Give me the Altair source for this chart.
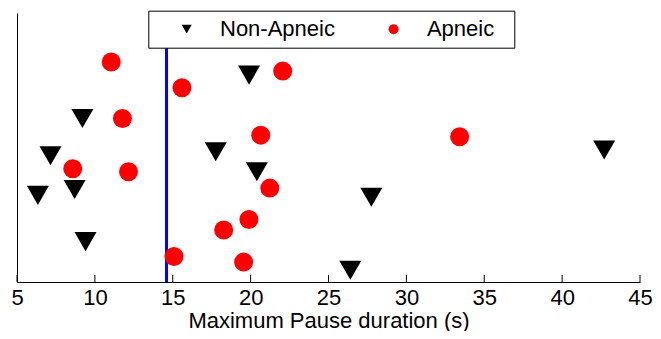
import altair as alt
import pandas as pd

groups = ["Non-Apneic", "Apneic"]
nonapneic_pause = [19.9, 9.2, 7.15, 17.76, 42.7, 20.4, 6.34, 8.7, 27.75, 9.4, 26.4]
nonapneic_jitter = [0.769, 0.608, 0.469, 0.484, 0.491, 0.410, 0.322, 0.344, 0.315, 0.150, 0.044]
apneic_pause = [11.05, 22.06, 15.59, 11.77, 20.65, 33.42, 8.58, 12.16, 21.23, 19.89, 18.27, 15.08, 19.55]
apneic_jitter = [0.818, 0.784, 0.722, 0.608, 0.546, 0.540, 0.421, 0.410, 0.349, 0.232, 0.193, 0.095, 0.074]
threshold = [14.6]
x_ticks = [5, 10, 15, 20, 25, 30, 35, 40, 45]

df = pd.DataFrame({
    "pause": nonapneic_pause + apneic_pause,
    "jitter": nonapneic_jitter + apneic_jitter,
    "group": [groups[0]] * len(nonapneic_pause) + [groups[1]] * len(apneic_pause),
})

W, H = 623, 269
PL = 9
FONT = "Liberation Sans"

xscale = alt.Scale(domain=[5, 45], nice=False, zero=False)
yscale = alt.Scale(domain=[0, 1], nice=False, zero=False)
xaxis = alt.Axis(values=x_ticks, ticks=False, grid=False, domain=True, labelFlush=False,
                 labelPadding=5, titlePadding=2, title="Maximum Pause duration (s)")
yaxis = alt.Axis(labels=False, ticks=False, grid=False, domain=True, title=None)

rule = alt.Chart(pd.DataFrame({"t": threshold})).mark_rule(
    color="#0000ff", strokeWidth=3
).encode(x=alt.X("t:Q", scale=xscale, axis=xaxis))

ticks = alt.Chart(pd.DataFrame({"tick": x_ticks})).mark_rule(
    color="black", strokeWidth=1
).encode(
    x=alt.X("tick:Q", scale=xscale, axis=xaxis),
    y=alt.value(H), y2=alt.value(H - 7),
)

legend = alt.Legend(
    title=".", titleOrient="right", titleOpacity=0, titleFontSize=10, titlePadding=9.6,
    orient="none", legendX=131.3, legendY=-2.3, direction="horizontal",
    fillColor="white", strokeColor="black", padding=7.5, symbolSize=100,
    symbolStrokeWidth=0, symbolOffset=19.9, labelOffset=22.3, columnPadding=26.9,
    labelFontSize=22, labelFont=FONT, labelColor="black",
)

color = alt.Color("group:N", scale=alt.Scale(domain=groups, range=["#000000", "#ff0000"]), legend=legend)
shape = alt.Shape("group:N", scale=alt.Scale(domain=groups, range=["triangle-down", "circle"]), legend=legend)

tri = alt.Chart(df).transform_filter(alt.datum.group == groups[0]).mark_point(
    filled=True, opacity=1, strokeWidth=0, size=484
).encode(
    x=alt.X("pause:Q", scale=xscale, axis=xaxis),
    y=alt.Y("jitter:Q", scale=yscale, axis=yaxis),
    color=color, shape=shape,
)

circ = alt.Chart(df).transform_filter(alt.datum.group == groups[1]).mark_point(
    filled=True, opacity=1, strokeWidth=0, size=361
).encode(
    x=alt.X("pause:Q", scale=xscale, axis=xaxis),
    y=alt.Y("jitter:Q", scale=yscale, axis=yaxis),
    color=color, shape=shape,
)

chart = alt.layer(rule, ticks, tri, circ).properties(
    width=W, height=H,
    padding={"left": PL, "top": 5, "right": 645 - PL - W, "bottom": 323 - 5 - H},
    autosize=alt.AutoSizeParams(type="none"),
).configure_view(stroke=None).configure_axis(
    labelFont=FONT, titleFont=FONT, labelFontSize=22, titleFontSize=22,
    titleFontWeight="normal", labelColor="black", titleColor="black",
    domainColor="black", domainWidth=1,
)

chart.save("out.html", embed_options={"renderer": "svg", "actions": False})
